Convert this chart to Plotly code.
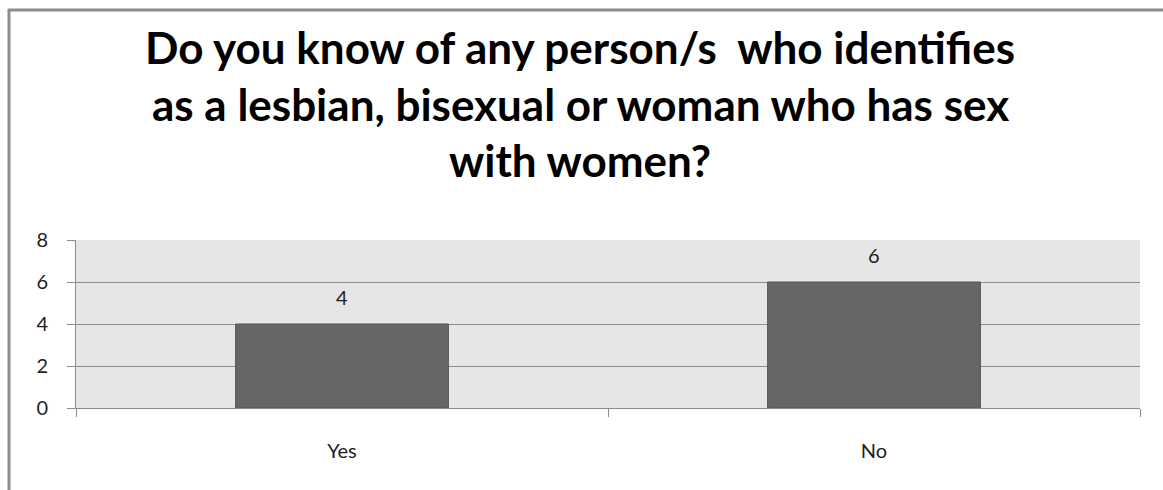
import plotly.graph_objects as go

categories = ["Yes", "No"]
counts = [4, 6]
y_ticks = [0, 2, 4, 6, 8]

title_lines = [
    "Do you know of any person/s  who identifies",
    "as a lesbian, bisexual or woman who has sex",
    "with women?",
]

PLOT_W = 1064  # plot area width in px
PLOT_H = 168   # plot area height in px

fig = go.Figure(
    go.Bar(
        x=categories,
        y=counts,
        width=0.4,
        marker=dict(color="#666666", line=dict(color="#555555", width=1)),
        hoverinfo="x+y",
    )
)

# value labels above each bar
for cat, val in zip(categories, counts):
    fig.add_annotation(
        x=cat, y=val, text=str(val), showarrow=False,
        yanchor="middle", yshift=27,
        font=dict(family="Lato", size=20, color="#1e1e1e"),
    )

# three-line title, centred over the chart
for i, line in enumerate(title_lines):
    fig.add_annotation(
        xref="paper", yref="paper",
        x=(580 - 76) / PLOT_W, y=(408 - (47 + 56.5 * i)) / PLOT_H,
        text=line, showarrow=False, xanchor="center", yanchor="middle",
        font=dict(family="Lato", size=44, color="black", weight="bold"),
    )

fig.update_layout(
    width=1163,
    height=490,
    margin=dict(l=76, r=23, t=240, b=82),
    paper_bgcolor="white",
    plot_bgcolor="#e6e6e6",
    showlegend=False,
    font=dict(family="Lato", size=20, color="#1e1e1e"),
    bargap=0.6,
)

fig.update_xaxes(
    type="category",
    showgrid=False,
    showline=True,
    linecolor="#8c8c8c",
    linewidth=1,
    ticks="outside",
    tickson="boundaries",
    ticklen=8,
    tickcolor="#8c8c8c",
    ticklabelstandoff=25,
)

fig.update_yaxes(
    range=[0, 8],
    tickvals=y_ticks,
    showgrid=True,
    gridcolor="#8c8c8c",
    gridwidth=1,
    showline=True,
    linecolor="#8c8c8c",
    linewidth=1,
    ticks="outside",
    ticklen=8,
    tickcolor="#8c8c8c",
    ticklabelstandoff=15,
    zeroline=False,
)

# chart frame: top and left edges
fig.add_shape(type="line", xref="paper", yref="paper",
              x0=-68 / PLOT_W, x1=1.2, y0=1 + 230 / PLOT_H, y1=1 + 230 / PLOT_H,
              line=dict(color="#8c8c8c", width=3))
fig.add_shape(type="line", xref="paper", yref="paper",
              x0=-67 / PLOT_W, x1=-67 / PLOT_W, y0=-0.6, y1=1 + 231 / PLOT_H,
              line=dict(color="#8c8c8c", width=3))

fig.write_html("out.html")
